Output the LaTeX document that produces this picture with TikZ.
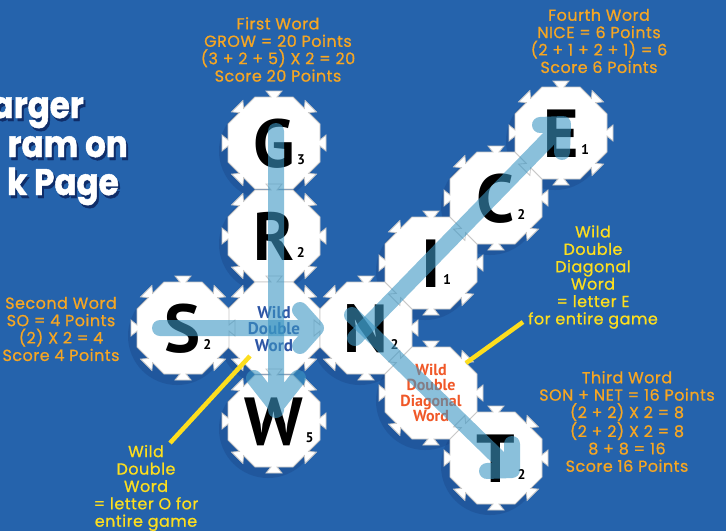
\documentclass[tikz,border=0pt]{standalone}
\usepackage{fontspec}
\setmainfont{PT Sans}
\newfontfamily\notefont{Poppins}[FakeBold=0.8, LetterSpace=3]
\newfontfamily\headfont{Poppins}[FakeStretch=0.88, FakeBold=1.2]
\usetikzlibrary{positioning}

\definecolor{bgblue}{RGB}{37,99,172}
\definecolor{noteorange}{RGB}{246,166,35}
\definecolor{noteyellow}{RGB}{253,222,30}
\definecolor{wildblue}{RGB}{45,85,165}
\definecolor{wildred}{RGB}{240,88,40}
\definecolor{bandblue}{RGB}{60,150,195}
\definecolor{tileedge}{RGB}{200,200,200}
\definecolor{shadeblue}{RGB}{15,45,105}

\begin{document}
\begin{tikzpicture}[x=1pt, y=-1pt,
  tile/.pic={
    \filldraw[fill=white, draw=tileedge, line width=0.8pt]
      (46,19.05) \foreach \a in {0,45,...,315}{
        -- ([rotate=\a]46,19.05) -- ([rotate=\a]46,3) -- ([rotate=\a]52,8)
        -- ([rotate=\a]52,-8) -- ([rotate=\a]46,-3) -- ([rotate=\a]46,-19.05)} -- cycle;
  },
  letter/.style={font=\bfseries\fontsize{68}{68}\selectfont, anchor=base, inner sep=0, yshift=-24pt},
  val/.style={font=\bfseries\fontsize{14}{14}\selectfont, anchor=base west, inner sep=0, xshift=2pt, yshift=3pt},
  note/.style={font=\notefont\fontsize{16}{17.4}\selectfont, align=center, text=noteorange, inner sep=0},
  wild/.style={font=\bfseries\fontsize{17}{16.5}\selectfont, align=center, inner sep=0},
  head/.style={font=\headfont\bfseries\fontsize{37}{37}\selectfont, anchor=base east, inner sep=0},
  band/.style={draw=bandblue, opacity=0.6, line width=16pt, line cap=round, line join=round},
  pointer/.style={draw=noteyellow, line width=4.5pt}]

  \useasboundingbox (0,0) rectangle (726,531);
  \clip (0,0) rectangle (726,531);
  \fill[bgblue] (0,0) rectangle (726,531);

  % tile centres
  \coordinate (g) at (274,143);
  \coordinate (r) at (274,236);
  \coordinate (o) at (274,328);
  \coordinate (w) at (274,421);
  \coordinate (s) at (183,328);
  \coordinate (n) at (366,328);
  \coordinate (i) at (431,263);
  \coordinate (c) at (496,198);
  \coordinate (e) at (561,133);
  \coordinate (d) at (431,393);
  \coordinate (t) at (496,458);

  % heading, cut at the left edge
  \foreach \txt/\x/\y in {arger/84/118, ram on/128/157, k Page/119/195} {
    \node[head, text=shadeblue] at (\x+2,\y+3) {\txt};
    \node[head, text=white] at (\x,\y) {\txt};
  }

  % shadows and tiles
  \foreach \t in {g,r,o,w,s,n,i,c,e,d,t}
    \fill[shadeblue, opacity=0.22] ([xshift=-6pt,yshift=-8pt]\t) circle (49pt);
  \foreach \t in {g,r,o,w,s,n,i,c,e,d,t}
    \pic at (\t) {tile};

  % letters and values
  \node[letter] (gl) at (g) {G};
  \node[val] at (gl.base east) {3};
  \node[letter] (rl) at (r) {R};
  \node[val] at (rl.base east) {2};
  \node[letter] (wl) at (w) {W};
  \node[val] at (wl.base east) {5};
  \node[letter] (sl) at (s) {S};
  \node[val] at (sl.base east) {2};
  \node[letter] (nl) at (n) {N};
  \node[val] at (nl.base east) {2};
  \node[letter] (il) at (i) {I};
  \node[val] at (il.base east) {1};
  \node[letter] (cl) at (c) {C};
  \node[val] at (cl.base east) {2};
  \node[letter] (el) at (e) {E};
  \node[val] at (el.base east) {1};
  \node[letter] (tl) at (t) {T};
  \node[val] at (tl.base east) {2};

  \node[wild, text=wildblue] (ow) at ([yshift=-1pt]o) {Wild\\Double\\Word};
  \node[wild, text=wildred, font=\bfseries\fontsize{16}{15.5}\selectfont] (dw) at (d) {Wild\\Double\\Diagonal\\Word};

  % word arrows
  \draw[band] (276,131) -- (276,410) (254,378) -- (276,406) -- (298,378);
  \draw[band] (160,328) -- (314,328) (300,310) -- (316,328) -- (300,346);
  \draw[band] (355,338) -- (562,125) (540,125) -- (563,124) -- (562,152);
  \draw[band] (352,315) -- (511,470) (512,444) -- (512,470) -- (487,471);

  % notes
  \node[note] (first) at (278,49.5) {First Word\\GROW = 20 Points\\(3 + 2 + 5) X 2 = 20\\Score 20 Points};
  \node[note] (fourth) at (599,41) {Fourth Word\\NICE = 6 Points\\(2 + 1 + 2 + 1) = 6\\Score 6 Points};
  \node[note] (second) at (61,329) {Second Word\\SO = 4 Points\\(2) X 2 = 4\\Score 4 Points};
  \node[note] (third) at (627,421.5) {Third Word\\SON + NET = 16 Points\\(2 + 2) X 2 = 8\\(2 + 2) X 2 = 8\\8 + 8 = 16\\Score 16 Points};
  \node[note, text=noteyellow] (wilde) at (593,277) {Wild\\Double\\Diagonal\\Word\\= letter E\\for entire game};
  \node[note, text=noteyellow] (wildo) at (146,488) {Wild\\Double\\Word\\= letter O for\\entire game};

  % pointers
  \coordinate (po1) at (250,356);
  \coordinate (po2) at (170,443);
  \coordinate (pe1) at (466,363);
  \coordinate (pe2) at (523,322);
  \draw[pointer] (po1) -- (po2);
  \draw[pointer] (pe1) -- (pe2);
\end{tikzpicture}
\end{document}
